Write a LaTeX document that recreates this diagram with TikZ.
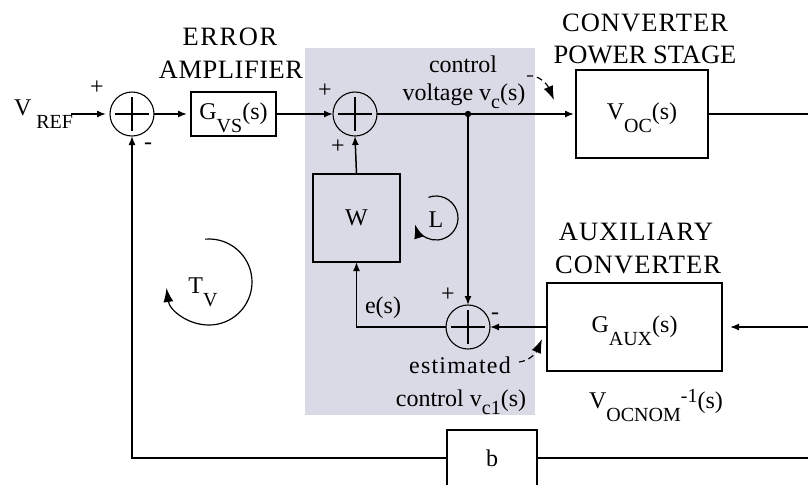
\documentclass[tikz,border=0pt]{standalone}
\usepackage{fontspec}
\setmainfont{Liberation Serif}
\usetikzlibrary{arrows.meta}
\definecolor{shadec}{RGB}{218,218,230}
\newcommand\lsub[1]{\raisebox{-6.5pt}[0pt][0pt]{\fontsize{10}{10}\selectfont #1}}
\newcommand\ssub[1]{\raisebox{-4pt}[0pt][0pt]{\fontsize{10}{10}\selectfont #1}}
\newcommand\lsup[1]{\raisebox{3pt}[0pt][0pt]{\fontsize{10}{10}\selectfont #1}}
\begin{document}
\begin{tikzpicture}[x=0.5pt,y=-0.5pt,
  every node/.style={inner sep=0pt, outer sep=0pt},
  blk/.style={draw, line width=1pt, inner sep=0pt},
  sumc/.style={draw, circle, line width=0.55pt, minimum size=22pt},
  conn/.style={line width=0.75pt},
  arr/.style={conn, -{Latex[length=4.5pt,width=3.5pt]}},
  bigarr/.style={line width=0.6pt, -{Latex[length=7pt,width=5pt]}},
  lbl/.style={font=\fontsize{12}{14}\selectfont},
  head/.style={font=\fontsize{13.25}{16}\selectfont},
  sgn/.style={font=\fontsize{12}{14}\selectfont}]
\useasboundingbox (0,0) rectangle (808,484);
\fill[white] (0,0) rectangle (808,484);
% shaded region
\fill[shadec] (305,48) rectangle (535,415);

% headings
\node[head, anchor=base] (err1) at (230,45) {\addfontfeature{LetterSpace=6}ERROR};
\node[head, anchor=base] (err2) at (231,78) {\addfontfeature{LetterSpace=2}AMPLIFIER};
\node[head, anchor=base] (cv1) at (645,31) {\addfontfeature{LetterSpace=4}CONVERTER};
\node[head, anchor=base] (cv2) at (645,63) {POWER STAGE};
\node[head, anchor=base] (ax1) at (636,240) {\addfontfeature{LetterSpace=4}AUXILIARY};
\node[head, anchor=base] (ax2) at (638,273) {\addfontfeature{LetterSpace=4}CONVERTER};

% blocks
\node[blk, minimum width=42.5pt, minimum height=22pt, lbl] (gvs) at (233.5,114) {G\lsub{VS}(s)};
\node[blk, minimum width=66pt, minimum height=44pt, lbl] (voc) at (642,114) {V\lsub{OC}(s)};
\node[blk, minimum width=43.5pt, minimum height=44pt, lbl] (w) at (356.5,218) {W};
\node[blk, minimum width=87.5pt, minimum height=44pt, lbl] (aux) at (634.5,327) {G\lsub{AUX}(s)};
\node[blk, minimum width=45pt, minimum height=28pt, lbl] (b) at (492,458) {b};

% summing junctions
\node[sumc] (s1) at (132,114) {};
\node[sumc] (s2) at (355,114) {};
\node[sumc] (s3) at (468,327) {};
\foreach \s in {s1,s2,s3}
  \draw[line width=0.6pt] (\s.center) +(-17,0) -- +(17,0) (\s.center) +(0,-17) -- +(0,17);

% coordinates
\coordinate (vin) at (71,114);
\coordinate (j) at (468,114);
\coordinate (outR) at (808,114);
\coordinate (auxR) at (808,327);
\coordinate (fbR) at (808,458);

% connectors
\draw[arr, shorten >=2pt] (vin) -- (s1.west);
\draw[arr, shorten >=2pt] (s1.east) -- (gvs.west);
\draw[arr] (gvs.east) -- (s2.west);
\draw[conn] (s2.east) -- (j);
\draw[arr, shorten >=1pt] (j) -- (voc.west);
\draw[conn] (voc.east) -- (outR);
\fill (j) circle[radius=3.2];
\draw[arr] (j) -- (s3.north);
\draw[arr, shorten >=4pt] (auxR) -- (aux.east);
\draw[arr] (aux.west) -- (s3.east);
\draw[arr] (s3.west) -| (w.south);
\draw[arr] (w.north) -- (s2.south);
\draw[conn] (fbR) -- (b.east);
\draw[arr] (b.west) -| (s1.south);

% signs
\node[sgn] (p1) at (97,88) {+};
\node[sgn] (m1) at (148,146) {-};
\node[sgn] (p2) at (325,91) {+};
\node[sgn] (p3) at (338,147) {+};
\node[sgn] (p4) at (448,295) {+};
\node[sgn] (m3) at (495,316) {-};

% labels
\node[lbl, anchor=base west] (vref) at (14,115) {V\hspace{2.5pt}\lsub{REF}};
\node[lbl, anchor=base] (ctl1) at (463,72) {control};
\node[lbl, anchor=base] (ctl2) at (464,100) {voltage v\ssub{c}(s)};
\node[lbl, anchor=base] (es) at (383,313) {e(s)};
\node[lbl, anchor=base] (est1) at (460,373) {\addfontfeature{LetterSpace=5}estimated};
\node[lbl, anchor=base] (est2) at (461,406) {control v\ssub{c1}(s)};
\node[lbl, anchor=base] (vnom) at (656,408) {V\lsub{OCNOM}\lsup{-1}(s)};
\node[lbl] (Lt) at (436,220) {L};
\node[lbl, anchor=base] (tv) at (203,293) {T\lsub{V}};

% annotation arrows
\coordinate (q1s) at (527,76);
\coordinate (q1e) at (554,100);
\draw[bigarr, densely dashed] (q1s) .. controls (540,74) and (548,86) .. (q1e);
\coordinate (q2s) at (519,362);
\coordinate (q2e) at (542,339);
\draw[bigarr, densely dashed] (q2s) .. controls (529,361) and (536,353) .. (q2e);

% loop arrows
\coordinate (tvc) at (209,282);
\draw[bigarr] (tvc) ++(-95:43) arc[start angle=-95, end angle=172, radius=43];
\coordinate (lc) at (436,218);
\draw[bigarr] (lc) ++(-110:22) arc[start angle=-110, end angle=163, radius=22];
\end{tikzpicture}
\end{document}
